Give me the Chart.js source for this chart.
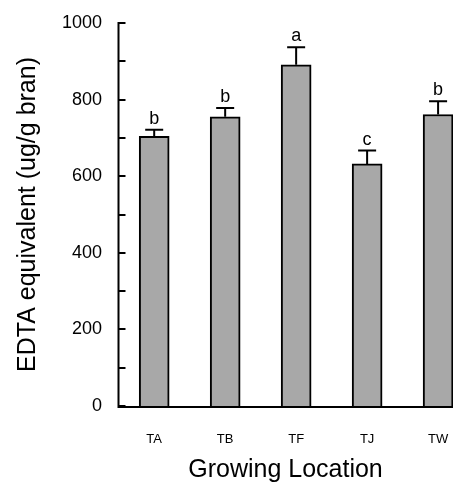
<!DOCTYPE html>
<html>
<head>
<meta charset="utf-8">
<script src="https://cdn.jsdelivr.net/npm/chart.js@4/dist/chart.umd.min.js"></script>
<style>
  html, body { margin: 0; padding: 0; background: #fff; overflow: hidden; }
  #wrap { width: 462px; height: 485px; position: relative; }
</style>
</head>
<body>
<div id="wrap"><canvas id="c" width="462" height="485"></canvas></div>
<script>
const categories = ['TA', 'TB', 'TF', 'TJ', 'TW'];
const means = [704, 755, 891, 632, 761];
const errors = [17, 23, 46, 35, 35];
const letters = ['b', 'b', 'a', 'c', 'b'];
const yMajorTicks = [0, 200, 400, 600, 800, 1000];
const yMinorStep = 100;

const FONT = 'Liberation Sans, Arial, Helvetica, sans-serif';

const overlay = {
  id: 'overlay',
  afterDatasetsDraw(chart) {
    const ctx = chart.ctx;
    const xs = chart.scales.x, ys = chart.scales.y;
    const area = chart.chartArea;
    ctx.save();
    ctx.strokeStyle = '#000';
    ctx.fillStyle = '#000';
    ctx.lineWidth = 2;
    ctx.lineCap = 'butt';
    // error bars + letters
    means.forEach((m, i) => {
      const x = xs.getPixelForValue(i);
      const yTop = ys.getPixelForValue(m);
      const yCap = ys.getPixelForValue(m + errors[i]);
      ctx.beginPath();
      ctx.moveTo(x, yTop);
      ctx.lineTo(x, yCap);
      ctx.moveTo(x - 9, yCap);
      ctx.lineTo(x + 9, yCap);
      ctx.stroke();
      ctx.font = '18px ' + FONT;
      ctx.textAlign = 'center';
      ctx.textBaseline = 'alphabetic';
      ctx.fillText(letters[i], x, yCap - 6);
    });
    // axes lines
    const x0 = Math.round(area.left) + 0.5;
    const y0 = Math.round(ys.getPixelForValue(0));
    ctx.beginPath();
    ctx.moveTo(x0, ys.getPixelForValue(1000) - 1);
    ctx.lineTo(x0, y0 + 1);
    ctx.lineTo(area.right, y0 + 1);
    ctx.stroke();
    // inward y ticks (major + minor)
    for (let v = 0; v <= 1000; v += yMinorStep) {
      const y = Math.round(ys.getPixelForValue(v));
      ctx.beginPath();
      ctx.moveTo(x0, y);
      ctx.lineTo(x0 + 7, y);
      ctx.stroke();
    }
    ctx.restore();
  }
};

new Chart(document.getElementById('c'), {
  type: 'bar',
  data: {
    datasets: [{
      data: means.map((v, i) => ({ x: i, y: v })),
      backgroundColor: '#a8a8a8',
      borderColor: '#000',
      borderWidth: 2,
      borderSkipped: 'start',
      barThickness: 30
    }]
  },
  options: {
    responsive: false,
    animation: false,
    devicePixelRatio: 1,
    layout: { padding: { left: 0, right: 9, top: 23, bottom: 0 } },
    plugins: { legend: { display: false }, tooltip: { enabled: false } },
    scales: {
      x: {
        type: 'linear',
        offset: false,
        min: -0.51,
        max: 4.21,
        afterBuildTicks: (axis) => { axis.ticks = categories.map((c, i) => ({ value: i })); },
        afterFit: (axis) => { axis.height = 79; axis.paddingLeft = 0; axis.paddingRight = 0; },
        grid: { display: false, drawTicks: false, offset: false },
        border: { display: false },
        ticks: {
          padding: 26,
          maxRotation: 0,
          autoSkip: false,
          color: '#000',
          font: { family: FONT, size: 13 },
          callback: (v) => categories[v] ?? ''
        },
        title: {
          display: true,
          text: 'Growing Location',
          color: '#000',
          font: { family: FONT, size: 25 },
          padding: { top: 0, bottom: 0 }
        }
      },
      y: {
        min: 0,
        max: 1000,
        afterBuildTicks: (axis) => { axis.ticks = yMajorTicks.map(v => ({ value: v })); },
        afterFit: (axis) => { axis.width = 118; axis.paddingTop = 0; axis.paddingBottom = 0; },
        grid: { display: false, drawTicks: false },
        border: { display: false },
        ticks: {
          padding: 16,
          color: '#000',
          font: { family: FONT, size: 18 },
          callback: (v) => String(v)
        },
        title: {
          display: true,
          text: 'EDTA equivalent (ug/g bran)',
          color: '#000',
          font: { family: FONT, size: 25 },
          padding: { top: 13, bottom: 0 }
        }
      }
    }
  },
  plugins: [overlay]
});
</script>
</body>
</html>
